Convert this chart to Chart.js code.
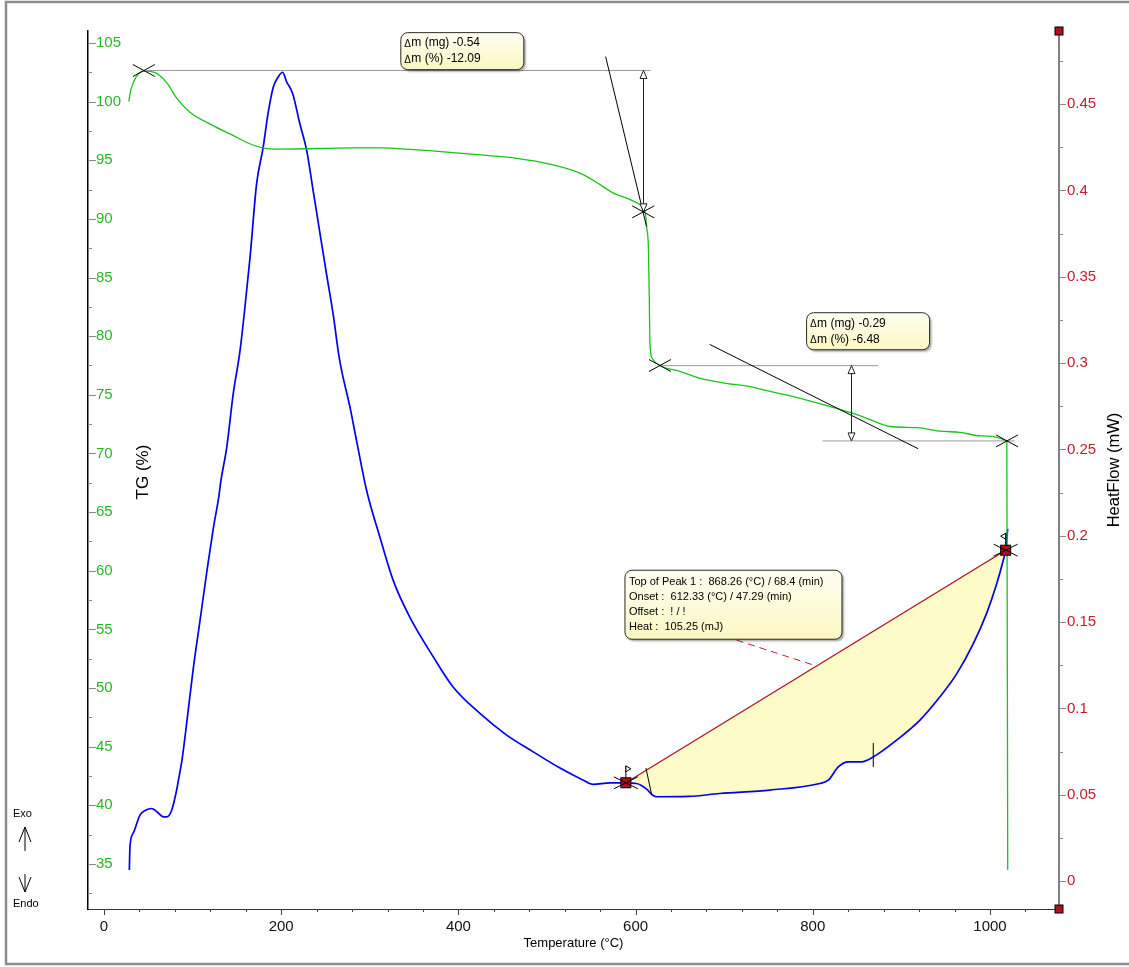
<!DOCTYPE html>
<html>
<head>
<meta charset="utf-8">
<title>TG / DSC</title>
<script src="https://cdn.jsdelivr.net/npm/chart.js@4.4.1/dist/chart.umd.min.js"></script>
<style>
  html, body { margin: 0; padding: 0; background: #fff; }
  #wrap { width: 1129px; height: 967px; }
</style>
</head>
<body>
<div id="wrap"><canvas id="tgChart" width="1129" height="967"></canvas></div>
<script>
// TG curve (%), green, left axis
const tgTemp = [28, 30, 33, 38, 45, 57, 71, 82, 97, 122, 146, 168, 184, 200, 240, 280, 312, 350, 387, 425,
    462, 507, 537, 552, 575, 592, 605, 611, 612.5, 614.5, 615.5, 616, 617, 619, 627.5, 650, 673, 700, 729, 757,
    786, 815, 842, 861, 887, 918, 944, 966, 990, 1019, 1020];
const tgPercent = [100.0, 100.9, 101.6, 102.3, 102.6, 102.5, 101.6, 100.3, 99.1, 98.0, 97.1, 96.3, 96.0, 95.95, 96.0, 96.05, 96.05, 95.9, 95.7, 95.45,
    95.2, 94.6, 93.9, 93.3, 92.2, 91.7, 91.2, 90.5, 89.3, 87.4, 83.0, 80.0, 78.6, 78.1, 77.5, 77.0, 76.4, 76.0, 75.7, 75.2,
    74.7, 74.1, 73.5, 73.0, 72.3, 72.2, 71.9, 71.8, 71.5, 71.0, 34.5];

// DSC heat flow (mW), blue, right axis
const dscTemp = [28.6, 29.3, 33, 40.6, 47, 53.8, 60, 67, 70.7, 76.4, 82, 84, 88, 93.7, 100.5, 108.4, 116.3, 123, 129.8, 132,
    138.5, 145.8, 153.5, 159, 164.8, 172.3, 179.6, 185, 191, 197, 201.6, 206, 213, 221, 228.8, 236, 243.8, 251, 258.5, 266,
    277.7, 285, 296.5, 311.5, 326.5, 345, 371.7, 394, 424, 454.5, 484.5, 514.7, 541, 552, 571, 589, 601, 612.5, 619, 624,
    660, 695, 751.7, 808, 817.5, 828.8, 840, 855, 868.3, 894.6, 921, 943.5, 962.4, 981.2, 996.2, 1007.5, 1015, 1017.7, 1020];
const dscHeat = [0.0064, 0.0198, 0.0277, 0.0382, 0.041, 0.042, 0.040, 0.0372, 0.0372, 0.041, 0.0527, 0.0584, 0.070, 0.093, 0.122, 0.151, 0.180, 0.203, 0.2234, 0.232,
    0.251, 0.282, 0.307, 0.332, 0.361, 0.404, 0.4248, 0.444, 0.4597, 0.466, 0.4684, 0.463, 0.456, 0.4387, 0.423, 0.40, 0.375, 0.352, 0.3287, 0.3015,
    0.2743, 0.2552, 0.226, 0.199, 0.174, 0.153, 0.1298, 0.1124, 0.0972, 0.0845, 0.0748, 0.0654, 0.0584, 0.056, 0.0569, 0.0569, 0.0565, 0.0532, 0.0498, 0.0488,
    0.049, 0.0507, 0.0527, 0.0565, 0.0584, 0.0661, 0.069, 0.069, 0.0719, 0.0816, 0.0932, 0.1067, 0.120, 0.1375, 0.155, 0.172, 0.1858, 0.1916, 0.204];

// peak integration baseline (start, end)
const baseTemp = [589, 1017.7];
const baseHeat = [0.0569, 0.1916];

// axis tick labels
const tempTicks = [0, 200, 400, 600, 800, 1000];
const tgTicks = [35, 40, 45, 50, 55, 60, 65, 70, 75, 80, 85, 90, 95, 100, 105];
const heatTicks = [0, 0.05, 0.1, 0.15, 0.2, 0.25, 0.3, 0.35, 0.4, 0.45];

// mass loss steps (temperature, TG %)
const refLines = [[46, 102.65, 617, 102.65], [627.5, 77.49, 874, 77.49], [811, 71.07, 1028, 71.07]];
const tangents = [[566.2, 103.83, 612.4, 89.34], [683.5, 79.3, 919, 70.4]];
const stepMarks = [[45, 102.65], [608.6, 90.6], [627.5, 77.5], [1019.2, 71.07]];
const stepArrows = [[608.6, 102.65, 90.6], [843, 77.49, 71.07]];
const stepBoxAt = [[335, 105.88], [793, 82.0]];
const stepMg = ['-0.54', '-0.29'];
const stepPct = ['-12.09', '-6.48'];

// peak labels (temperature, heat flow)
const peakBoxAt = [588, 0.180];
const peakText = ['Top of Peak 1 :  868.26 (°C) / 68.4 (min)', 'Onset :  612.33 (°C) / 47.29 (min)', 'Offset :  ! / !', 'Heat :  105.25 (mJ)'];
const onsetTick = [611.7, 0.0654, 618.2, 0.0498];
const peakTick = [868.26, 0.066, 868.26, 0.080];
const peakLink = [714, 0.1395, 804.3, 0.1245];

const FONT = "'Liberation Sans', Arial, sans-serif";
Chart.defaults.font.family = FONT;

const pts = (xs, ys) => xs.map((x, i) => ({ x: x, y: ys[i] }));
const peakArea = pts(dscTemp, dscHeat).filter(p => p.x >= baseTemp[0] && p.x <= baseTemp[1]);

function cross(ctx, x, y, hw, hh) {
    ctx.moveTo(x - hw, y - hh); ctx.lineTo(x + hw, y + hh);
    ctx.moveTo(x - hw, y + hh); ctx.lineTo(x + hw, y - hh);
}

function roundBox(ctx, x, y, w, h, r) {
    ctx.beginPath();
    ctx.moveTo(x + r, y);
    ctx.arcTo(x + w, y, x + w, y + h, r);
    ctx.arcTo(x + w, y + h, x, y + h, r);
    ctx.arcTo(x, y + h, x, y, r);
    ctx.arcTo(x, y, x + w, y, r);
    ctx.closePath();
}

function drawBox(ctx, x, y, w, h) {
    ctx.save();
    ctx.shadowColor = 'rgba(0,0,0,0.35)';
    ctx.shadowOffsetX = 2; ctx.shadowOffsetY = 2; ctx.shadowBlur = 2;
    const g = ctx.createLinearGradient(x, y, x, y + h);
    g.addColorStop(0, '#fffff2');
    g.addColorStop(1, '#fbf7c2');
    ctx.fillStyle = g;
    roundBox(ctx, x, y, w, h, 7);
    ctx.fill();
    ctx.shadowColor = 'transparent';
    ctx.strokeStyle = '#2a2a2a';
    ctx.lineWidth = 1;
    ctx.stroke();
    ctx.restore();
}

function arrowHead(ctx, x, y, dir) {
    ctx.beginPath();
    ctx.moveTo(x, y);
    ctx.lineTo(x - 3.5, y + dir * 8);
    ctx.lineTo(x + 3.5, y + dir * 8);
    ctx.closePath();
    ctx.fillStyle = '#fff';
    ctx.fill();
    ctx.stroke();
}

function redSquare(ctx, x, y, s) {
    ctx.fillStyle = '#b0101e';
    ctx.fillRect(x - s / 2, y - s / 2, s, s);
    ctx.strokeStyle = '#000';
    ctx.lineWidth = 1;
    ctx.strokeRect(x - s / 2, y - s / 2, s, s);
}

const decor = {
    id: 'decor',
    afterDraw(chart) {
        const ctx = chart.ctx;
        const sx = chart.scales.x, st = chart.scales.yTG, sh = chart.scales.yHF;
        const X = v => sx.getPixelForValue(v);
        const T = v => st.getPixelForValue(v);
        const H = v => sh.getPixelForValue(v);
        ctx.save();

        // tick marks
        ctx.lineWidth = 1;
        ctx.strokeStyle = '#444';
        ctx.beginPath();
        for (let v = 0; v <= sx.max; v += 40) {
            const x = Math.round(X(v)) + 0.5;
            ctx.moveTo(x, sx.top); ctx.lineTo(x, sx.top + (v % 200 === 0 ? 6 : 3));
        }
        ctx.stroke();
        ctx.strokeStyle = '#888';
        ctx.beginPath();
        for (let v = 32.5; v <= st.max; v += 2.5) {
            const y = Math.round(T(v)) + 0.5;
            ctx.moveTo(st.right, y); ctx.lineTo(st.right + (v % 5 === 0 ? 8 : 4), y);
        }
        for (let k = 0; k * 0.025 <= sh.max; k++) {
            const y = Math.round(H(k * 0.025)) + 0.5;
            ctx.moveTo(sh.left, y); ctx.lineTo(sh.left + (k % 2 === 0 ? 7 : 4), y);
        }
        ctx.stroke();

        // red end squares on the heat flow axis
        redSquare(ctx, sh.left, sh.top, 8);
        redSquare(ctx, sh.left, sh.bottom, 8);

        // mass-loss step reference lines
        ctx.strokeStyle = '#9a9a9a';
        ctx.lineWidth = 1;
        ctx.beginPath();
        refLines.forEach(l => { ctx.moveTo(X(l[0]), T(l[1])); ctx.lineTo(X(l[2]), T(l[3])); });
        ctx.stroke();
        ctx.strokeStyle = '#000';
        ctx.beginPath();
        tangents.forEach(l => { ctx.moveTo(X(l[0]), T(l[1])); ctx.lineTo(X(l[2]), T(l[3])); });
        ctx.stroke();
        ctx.strokeStyle = '#222';
        stepArrows.forEach(a => {
            const x = Math.round(X(a[0])) + 0.5;
            ctx.beginPath();
            ctx.moveTo(x, T(a[1])); ctx.lineTo(x, T(a[2]));
            ctx.stroke();
            arrowHead(ctx, x, T(a[1]), 1);
            arrowHead(ctx, x, T(a[2]), -1);
        });
        ctx.strokeStyle = '#000';
        ctx.beginPath();
        stepMarks.forEach(m => cross(ctx, X(m[0]), T(m[1]), 11, 6));
        ctx.stroke();

        // peak marks
        ctx.beginPath();
        ctx.moveTo(X(onsetTick[0]), H(onsetTick[1])); ctx.lineTo(X(onsetTick[2]), H(onsetTick[3]));
        ctx.moveTo(X(peakTick[0]), H(peakTick[1])); ctx.lineTo(X(peakTick[2]), H(peakTick[3]));
        ctx.stroke();
        ctx.save();
        ctx.strokeStyle = '#c0202a';
        ctx.setLineDash([7, 5]);
        ctx.beginPath();
        ctx.moveTo(X(peakLink[0]), H(peakLink[1])); ctx.lineTo(X(peakLink[2]), H(peakLink[3]));
        ctx.stroke();
        ctx.restore();
        baseTemp.forEach((t, i) => {
            const x = X(t), y = H(baseHeat[i]);
            redSquare(ctx, x, y, 10);
            ctx.strokeStyle = '#000';
            ctx.beginPath();
            cross(ctx, x, y, 12, 6);
            ctx.stroke();
            // small flag
            const d = i === 0 ? 1 : -1;
            ctx.beginPath();
            ctx.moveTo(x, y - 5); ctx.lineTo(x, y - 17);
            ctx.stroke();
            ctx.beginPath();
            ctx.moveTo(x, y - 17); ctx.lineTo(x + d * 5, y - 14); ctx.lineTo(x, y - 11);
            ctx.closePath();
            ctx.fillStyle = '#fff';
            ctx.fill();
            ctx.stroke();
        });

        // label boxes
        stepBoxAt.forEach((b, i) => {
            const x = X(b[0]), y = T(b[1]);
            drawBox(ctx, x, y, 123, 37);
            ctx.fillStyle = '#000';
            ctx.textBaseline = 'middle';
            ctx.textAlign = 'left';
            [['(mg) ' + stepMg[i], 10.5], ['(%) ' + stepPct[i], 26.5]].forEach(r => {
                ctx.font = '10px ' + FONT;
                ctx.fillText('\u0394', x + 3.5, y + r[1] + 1);
                ctx.font = '12px ' + FONT;
                ctx.fillText('m ' + r[0], x + 10.5, y + r[1]);
            });
        });
        const bx = X(peakBoxAt[0]), by = H(peakBoxAt[1]);
        drawBox(ctx, bx, by, 217, 69);
        ctx.fillStyle = '#000';
        ctx.font = '11px ' + FONT;
        peakText.forEach((t, i) => ctx.fillText(t, bx + 4, by + 11.5 + i * 15.2));

        // axis titles
        ctx.fillStyle = '#000';
        ctx.textAlign = 'center';
        ctx.textBaseline = 'middle';
        ctx.font = '13px ' + FONT;
        ctx.fillText('Temperature (°C)', (sx.left + sx.right) / 2, 943);
        ctx.save();
        ctx.translate(143, 472);
        ctx.rotate(-Math.PI / 2);
        ctx.font = '17px ' + FONT;
        ctx.fillText('TG (%)', 0, 0);
        ctx.restore();
        ctx.save();
        ctx.translate(1114, 470);
        ctx.rotate(-Math.PI / 2);
        ctx.font = '16.5px ' + FONT;
        ctx.fillText('HeatFlow (mW)', 0, 0);
        ctx.restore();

        // Exo / Endo
        ctx.font = '11px ' + FONT;
        ctx.textAlign = 'left';
        ctx.fillText('Exo', 13, 814);
        ctx.fillText('Endo', 13, 904);
        ctx.strokeStyle = '#000';
        ctx.beginPath();
        ctx.moveTo(25, 851); ctx.lineTo(25, 827);
        ctx.moveTo(19, 842); ctx.lineTo(25, 827); ctx.lineTo(31, 842);
        ctx.moveTo(25, 874); ctx.lineTo(25, 892);
        ctx.moveTo(19, 877); ctx.lineTo(25, 892); ctx.lineTo(31, 877);
        ctx.stroke();

        // outer frame
        ctx.strokeStyle = '#8c8c8c';
        ctx.lineWidth = 2.5;
        ctx.strokeRect(6, 2, 1140, 962);
        ctx.restore();
    }
};

new Chart(document.getElementById('tgChart'), {
    type: 'line',
    data: {
        datasets: [{
            label: 'TG',
            data: pts(tgTemp, tgPercent),
            yAxisID: 'yTG',
            borderColor: '#19c319',
            borderWidth: 1.3,
            pointRadius: 0,
            cubicInterpolationMode: 'monotone',
            fill: false
        }, {
            label: 'HeatFlow',
            data: pts(dscTemp, dscHeat),
            yAxisID: 'yHF',
            borderColor: '#0000f0',
            borderWidth: 1.7,
            pointRadius: 0,
            cubicInterpolationMode: 'monotone',
            fill: false
        }, {
            label: 'Baseline',
            data: pts(baseTemp, baseHeat),
            yAxisID: 'yHF',
            borderColor: '#b0101e',
            borderWidth: 1.3,
            pointRadius: 0,
            fill: false
        }, {
            label: 'Peak area',
            data: peakArea,
            yAxisID: 'yHF',
            borderWidth: 0,
            borderColor: 'rgba(0,0,0,0)',
            backgroundColor: 'rgb(253,251,200)',
            pointRadius: 0,
            cubicInterpolationMode: 'monotone',
            fill: { target: 2 }
        }]
    },
    options: {
        responsive: false,
        animation: false,
        events: [],
        devicePixelRatio: 1,
        layout: { padding: { top: 31, left: 0, right: 0, bottom: 0 } },
        plugins: {
            legend: { display: false },
            tooltip: { enabled: false },
            filler: { drawTime: 'beforeDatasetsDraw' }
        },
        scales: {
            x: {
                type: 'linear',
                min: -18.06,
                max: 1077.9,
                afterBuildTicks: s => { s.ticks = tempTicks.map(v => ({ value: v })); },
                afterFit: s => { s.height = 58; },
                grid: { display: false, drawTicks: false },
                border: { display: true, color: '#333', width: 1 },
                ticks: { padding: 9, color: '#111', font: { size: 15 }, maxRotation: 0, autoSkip: false, callback: v => String(v) }
            },
            yTG: {
                type: 'linear',
                position: 'left',
                min: 31.16,
                max: 106.02,
                afterBuildTicks: s => { s.ticks = tgTicks.map(v => ({ value: v })); },
                afterFit: s => { s.width = 88; },
                grid: { display: false, drawTicks: false },
                border: { display: true, color: '#000', width: 1.5 },
                ticks: { mirror: true, padding: 8, color: '#25b825', font: { size: 15 }, autoSkip: false, callback: v => String(v) }
            },
            yHF: {
                type: 'linear',
                position: 'right',
                min: -0.0162,
                max: 0.4923,
                afterBuildTicks: s => { s.ticks = heatTicks.map(v => ({ value: v })); },
                afterFit: s => { s.width = 70; },
                grid: { display: false, drawTicks: false },
                border: { display: true, color: '#808080', width: 2 },
                ticks: {
                    padding: 8, color: '#c0202a', font: { size: 15 }, autoSkip: false,
                    callback: v => String(parseFloat(Number(v).toFixed(3)))
                }
            }
        }
    },
    plugins: [decor]
});
</script>
</body>
</html>
